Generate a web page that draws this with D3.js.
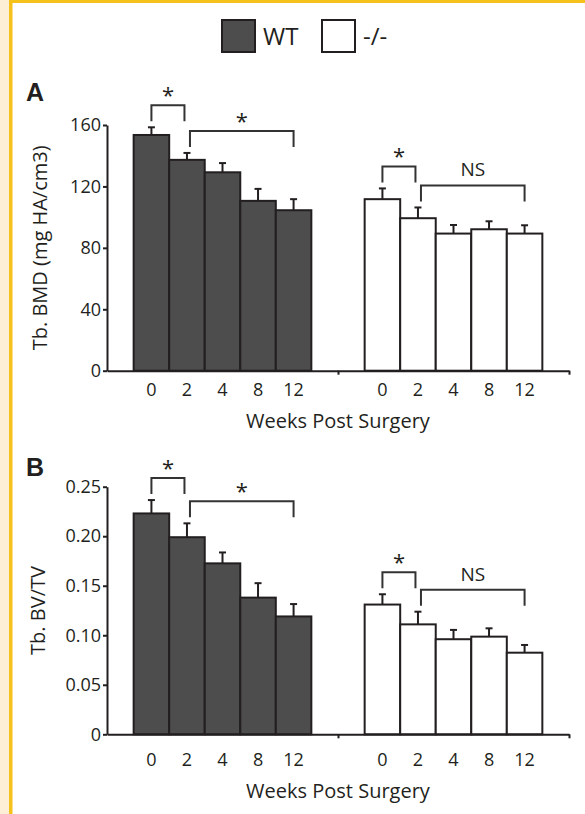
<!DOCTYPE html>
<html>
<head>
<meta charset="utf-8">
<script src="https://cdn.jsdelivr.net/npm/d3@7"></script>
<style>
body { margin: 0; background: #fff; }
svg { display: block; }
text { font-family: "Open Sans", "DejaVu Sans", sans-serif; fill: #231f20; }
</style>
</head>
<body>
<svg id="chart" width="585" height="814"></svg>
<script>
var groups = ['WT', '-/-'];
var weeks = ['0', '2', '4', '8', '12'];

// panel A - Tb. BMD
var bmdWT = [153.5, 137.3, 129.2, 110.6, 104.5];
var bmdWTErr = [5.0, 4.5, 6.0, 7.8, 7.2];
var bmdKO = [111.7, 99.3, 89.3, 92.1, 89.3];
var bmdKOErr = [7.0, 7.0, 5.6, 5.2, 5.4];
var bmdTicks = [0, 40, 80, 120, 160];

// panel B - Tb. BV/TV
var bvWT = [0.223, 0.199, 0.1726, 0.138, 0.119];
var bvWTErr = [0.0135, 0.014, 0.011, 0.0146, 0.0125];
var bvKO = [0.131, 0.111, 0.096, 0.0986, 0.0824];
var bvKOErr = [0.0104, 0.0128, 0.0094, 0.0084, 0.0078];
var bvTicks = [0, 0.05, 0.10, 0.15, 0.20, 0.25];

// significance brackets: group, from week idx, to week idx, label
var bmdSig = [['WT', 0, 1, '*'], ['WT', 1, 4, '*'], ['-/-', 0, 1, '*'], ['-/-', 1, 4, 'NS']];
var bvSig = [['WT', 0, 1, '*'], ['WT', 1, 4, '*'], ['-/-', 0, 1, '*'], ['-/-', 1, 4, 'NS']];

var colors = {'WT': '#4d4d4d', '-/-': '#ffffff'};
var ink = '#231f20';

var svg = d3.select('#chart');

// page frame (yellow rule + beige strip)
svg.append('rect').attr('x', 0).attr('y', 0).attr('width', 9).attr('height', 814).attr('fill', '#fcefd5');
svg.append('rect').attr('x', 9).attr('y', 0).attr('width', 3.5).attr('height', 814).attr('fill', '#f5c21c');
svg.append('rect').attr('x', 9).attr('y', 0).attr('width', 576).attr('height', 3).attr('fill', '#f5c21c');

// legend
var legend = svg.append('g');
legend.selectAll('rect')
  .data(groups)
  .enter().append('rect')
  .attr('x', function(d, i) { return 222 + i * 100; })
  .attr('y', 20)
  .attr('width', 33)
  .attr('height', 32)
  .attr('fill', function(d) { return colors[d]; })
  .attr('stroke', ink)
  .attr('stroke-width', 2);
legend.selectAll('text')
  .data(groups)
  .enter().append('text')
  .attr('x', function(d, i) { return 263 + i * 100; })
  .attr('y', 45)
  .style('font-size', '24px')
  .text(function(d) { return d; });

var left = 107, right = 569;

function drawPanel(p) {
  var g = svg.append('g');

  var y = d3.scaleLinear().domain([0, p.ticks[p.ticks.length - 1]]).range([p.y0, p.yTop]);

  // two groups with a gap, weeks touching inside each group
  var gx = d3.scaleBand().domain(groups).range([left, right])
    .paddingInner(1.5 / 6.5).paddingOuter(0.75 / 6.5);
  var wx = d3.scaleBand().domain(weeks).range([0, gx.bandwidth()]).padding(0);

  var rows = [];
  groups.forEach(function(grp, gi) {
    var vals = gi === 0 ? p.wt : p.ko;
    var errs = gi === 0 ? p.wtErr : p.koErr;
    weeks.forEach(function(w, i) {
      rows.push({group: grp, week: w, i: i, value: vals[i], err: errs[i]});
    });
  });

  function cx(grp, i) { return gx(grp) + wx(weeks[i]) + wx.bandwidth() / 2; }

  // error bars (upper only) drawn first so the bar outline sits over the stem
  var eb = g.selectAll('.err').data(rows).enter().append('g').attr('class', 'err')
    .attr('stroke', ink).attr('stroke-width', 2);
  eb.append('line')
    .attr('x1', function(d) { return cx(d.group, d.i); })
    .attr('x2', function(d) { return cx(d.group, d.i); })
    .attr('y1', function(d) { return y(d.value); })
    .attr('y2', function(d) { return y(d.value + d.err); });
  eb.append('line')
    .attr('x1', function(d) { return cx(d.group, d.i) - 3.5; })
    .attr('x2', function(d) { return cx(d.group, d.i) + 3.5; })
    .attr('y1', function(d) { return y(d.value + d.err); })
    .attr('y2', function(d) { return y(d.value + d.err); });

  g.selectAll('.bar').data(rows).enter().append('rect')
    .attr('class', 'bar')
    .attr('x', function(d) { return gx(d.group) + wx(d.week); })
    .attr('y', function(d) { return y(d.value); })
    .attr('width', wx.bandwidth())
    .attr('height', function(d) { return y(0) - y(d.value); })
    .attr('fill', function(d) { return colors[d.group]; })
    .attr('stroke', ink)
    .attr('stroke-width', 2);

  // y axis
  var yAxis = g.append('g').attr('transform', 'translate(' + left + ',0)')
    .call(d3.axisLeft(y).tickValues(p.ticks).tickSize(4).tickSizeOuter(0).tickPadding(2)
      .tickFormat(p.fmt));
  yAxis.select('.domain').attr('stroke', ink).attr('stroke-width', 2);
  yAxis.selectAll('.tick line').attr('stroke', ink).attr('stroke-width', 2);
  yAxis.selectAll('text').style('font-size', '18px').style('font-family', '"Open Sans", sans-serif').attr('fill', ink);

  // x axis line with the two little ticks (mid gap + end)
  var xl = d3.scaleLinear().domain([0, 13]).range([left, right]);
  var xAxis = g.append('g').attr('transform', 'translate(0,' + p.y0 + ')')
    .call(d3.axisBottom(xl).tickValues([6.5, 13]).tickSize(4).tickSizeOuter(0).tickFormat(''));
  xAxis.select('.domain').attr('stroke', ink).attr('stroke-width', 2);
  xAxis.selectAll('.tick line').attr('stroke', ink).attr('stroke-width', 2);

  // week labels under each group
  groups.forEach(function(grp) {
    var wl = g.append('g').attr('transform', 'translate(' + gx(grp) + ',' + p.y0 + ')')
      .call(d3.axisBottom(wx).tickSize(0).tickPadding(p.labelPad));
    wl.select('.domain').remove();
    wl.selectAll('text').style('font-size', '18px').style('font-family', '"Open Sans", sans-serif').attr('fill', ink);
  });

  g.append('text')
    .attr('x', (left + right) / 2)
    .attr('y', p.y0 + p.titlePad)
    .attr('text-anchor', 'middle')
    .style('font-size', '20px')
    .text('Weeks Post Surgery');

  g.append('text')
    .attr('transform', 'translate(' + p.yLabelX + ',' + ((p.y0 + p.yTop) / 2) + ') rotate(-90)')
    .attr('text-anchor', 'middle')
    .style('font-size', '20px')
    .text(p.yLabel);

  g.append('text')
    .attr('x', 26)
    .attr('y', p.letterY)
    .style('font-family', '"Liberation Sans", Arial, sans-serif')
    .style('font-weight', 'bold')
    .style('font-size', '25px')
    .text(p.letter);

  // significance brackets
  p.sig.forEach(function(s) {
    var grp = s[0], a = s[1], b = s[2];
    var vals = grp === 'WT' ? p.wt : p.ko;
    var errs = grp === 'WT' ? p.wtErr : p.koErr;
    var top = 0;
    for (var i = a; i <= b; i++) top = Math.max(top, vals[i] + errs[i]);
    var shared = function(idx, self) {
      return p.sig.some(function(o) { return o !== self && o[0] === grp && (o[1] === idx || o[2] === idx); });
    };
    var x1 = cx(grp, a) + (shared(a, s) ? 3 : 0);
    var x2 = cx(grp, b) - (shared(b, s) ? 2.5 : 0);
    var yb = y(top) - 6, yt = yb - 16;
    g.append('path')
      .attr('d', 'M' + x1 + ',' + yb + 'V' + yt + 'H' + x2 + 'V' + yb)
      .attr('fill', 'none')
      .attr('stroke', '#333')
      .attr('stroke-width', 2);
    g.append('text')
      .attr('x', (x1 + x2) / 2)
      .attr('y', s[3] === '*' ? yt - 2 : yt - 9)
      .attr('text-anchor', 'middle')
      .style('font-size', s[3] === '*' ? '22px' : '19px')
      .text(s[3]);
  });
}

drawPanel({
  letter: 'A', letterY: 101,
  y0: 370.7, yTop: 125,
  wt: bmdWT, wtErr: bmdWTErr, ko: bmdKO, koErr: bmdKOErr,
  ticks: bmdTicks, fmt: d3.format('d'),
  sig: bmdSig,
  yLabel: 'Tb. BMD (mg HA/cm3)', yLabelX: 46.5,
  labelPad: 13, titlePad: 57.5
});

drawPanel({
  letter: 'B', letterY: 476,
  y0: 734.3, yTop: 486.7,
  wt: bvWT, wtErr: bvWTErr, ko: bvKO, koErr: bvKOErr,
  ticks: bvTicks, fmt: function(d) { return d === 0 ? '0' : d3.format('.2f')(d); },
  sig: bvSig,
  yLabel: 'Tb. BV/TV', yLabelX: 45,
  labelPad: 19, titlePad: 64
});
</script>
</body>
</html>
